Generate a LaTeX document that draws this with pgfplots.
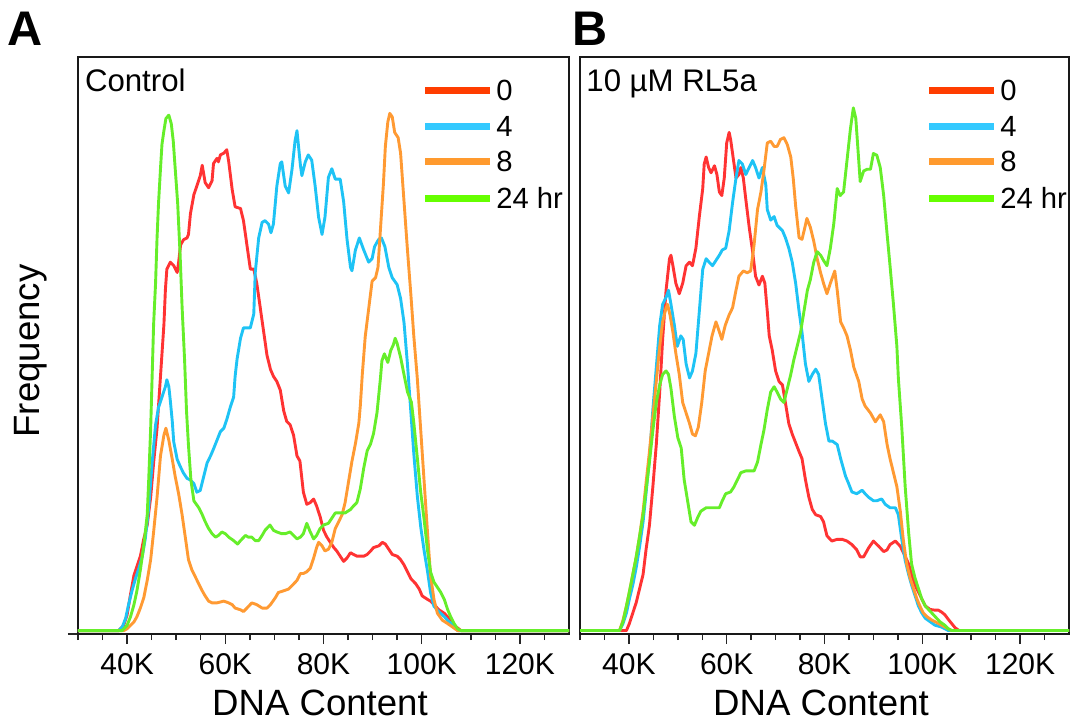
\documentclass[border=0pt]{standalone}
\usepackage{fontspec}
\setmainfont{Liberation Sans}
\usepackage{pgfplots}
\pgfplotsset{compat=1.18}

\definecolor{cred}{HTML}{FF3333}
\definecolor{cblue}{HTML}{1EC3F5}
\definecolor{corange}{HTML}{FF9A33}
\definecolor{cgreen}{HTML}{66EE2A}
\definecolor{lred}{HTML}{FF3D00}
\definecolor{lblue}{HTML}{33C9FF}
\definecolor{lorange}{HTML}{FF9A2E}
\definecolor{lgreen}{HTML}{66FF00}

\newcommand{\ticklab}{\fontsize{15}{18}\selectfont}
\newcommand{\axlab}{\fontsize{18.3}{22}\selectfont}
\newcommand{\legfont}{\fontsize{14.6}{18}\selectfont}
\newcommand{\titfont}{\fontsize{15.6}{19}\selectfont}
\newcommand{\panfont}{\fontsize{24.3}{28}\selectfont\bfseries}

\pgfplotsset{
  flowpanel/.style={
    scale only axis, height=288.5pt,
    xmin=30, xmax=130, ymin=0,
    xtick={40,60,80,100,120}, xticklabels={40K,60K,80K,100K,120K},
    minor xtick={30,35,45,50,55,65,70,75,85,90,95,105,110,115,125},
    xtick pos=left, ytick pos=left,
    tick align=outside,
    major tick length=5pt, minor tick length=3pt,
    tick style={black!85, line width=0.75pt},
    axis line style={black!90, line width=1.3pt},
    xticklabel style={font=\ticklab, anchor=base, yshift=-15pt},
    xlabel={DNA Content},
    xlabel style={font=\axlab, at={(axis description cs:0.4929,-0.1404)}, anchor=base},
    every axis plot/.append style={line width=1.45pt, line join=round},
  }
}

\begin{document}
\begin{tikzpicture}
\useasboundingbox (0,0) rectangle (536pt,-362pt);

% ---------------- panel A: control ----------------
\begin{axis}[flowpanel, width=245.5pt, ymax=1668,
  at={(39pt,-317pt)}, anchor=south west,
  ytick={0}, yticklabels={},
  ylabel={Frequency},
  ylabel style={font=\axlab, at={(axis description cs:-0.0794,0.4905)}, anchor=base, rotate=0},
]
\addplot[cred] coordinates {
(30,10) (38.3,10) (39.3,25) (40.0,55) (40.7,115) (41.4,170) (42.0,195) (42.7,225) (43.4,275) (44.1,315)
(44.8,395) (45.4,495) (46.1,595) (46.8,745) (47.5,895) (47.8,995) (48.1,1055) (48.8,1075) (49.5,1065)
(50.2,1045) (50.5,1075) (50.9,1125) (51.5,1140) (52.2,1145) (52.5,1155) (52.9,1215) (53.6,1270)
(54.2,1295) (54.9,1325) (55.3,1355) (55.9,1305) (56.6,1290) (57.3,1310) (57.6,1360) (58.3,1375)
(58.6,1365) (59.0,1385) (59.7,1390) (60.3,1400) (60.7,1365) (61.4,1285) (62.0,1235) (63.1,1230)
(63.7,1195) (64.4,1125) (65.1,1055) (65.8,1055) (66.4,1015) (67.1,945) (67.8,875) (68.5,805)
(69.2,765) (69.8,745) (70.5,730) (71.2,705) (71.9,645) (72.5,615) (73.2,605) (73.9,575) (74.6,515)
(75.2,500) (75.9,410) (76.6,375) (77.3,380) (78.0,390) (78.6,370) (79.3,340) (80.0,300) (80.7,280)
(81.4,265) (82.1,250) (82.7,240) (83.4,225) (84.1,210) (84.8,220) (85.5,235) (86.1,230) (86.8,225)
(88.2,225) (88.9,230) (89.6,240) (90.2,250) (91.3,255) (92.0,265) (92.6,260) (93.3,245) (94.0,230)
(95.0,225) (95.7,215) (96.4,200) (97.1,180) (97.8,160) (98.8,145) (99.5,130) (100.1,110) (101.2,100)
(101.8,95) (102.5,85) (103.5,70) (104.6,60) (105.6,45) (106.6,25) (108.0,10) (130,10)
};
\addplot[cblue] coordinates {
(30,10) (38.3,10) (39.0,20) (39.7,45) (40.3,85) (41.0,125) (41.7,160) (42.4,190) (43.1,225) (43.7,275)
(44.4,365) (45.1,495) (45.8,605) (46.4,655) (47.1,685) (47.8,715) (48.1,735) (48.5,715) (48.8,675)
(49.2,615) (49.5,555) (50.2,505) (50.8,485) (51.5,465) (52.2,450) (52.9,445) (53.6,435) (54.2,410)
(54.9,415) (55.6,455) (56.3,495) (57.0,515) (57.6,535) (58.3,560) (59.0,585) (59.7,595) (60.3,620)
(61.0,655) (61.7,685) (62.0,745) (62.4,795) (63.1,855) (63.7,885) (65.1,885) (65.8,925) (66.1,1045)
(66.8,1145) (67.5,1190) (68.1,1195) (68.8,1185) (69.3,1160) (69.8,1185) (70.5,1295) (71.2,1360)
(71.5,1365) (72.2,1295) (72.9,1275) (73.6,1345) (74.2,1425) (74.6,1455) (75.3,1355) (75.6,1325)
(76.3,1365) (76.9,1385) (77.6,1370) (78.3,1295) (79.0,1205) (79.7,1155) (80.3,1205) (81.0,1320)
(81.7,1345) (82.4,1315) (83.4,1315) (84.1,1250) (84.8,1140) (85.5,1060) (85.8,1050) (86.5,1110)
(87.3,1145) (88.2,1110) (89.2,1075) (89.9,1085) (90.4,1120) (91.2,1140) (91.8,1145) (92.5,1120)
(93.3,1060) (94.0,1030) (95.0,1010) (95.7,970) (96.4,900) (97.1,780) (97.8,640) (98.4,520) (99.1,400)
(99.8,310) (100.5,240) (101.2,180) (101.8,120) (102.5,80) (103.5,65) (104.6,50) (105.6,35) (106.6,25)
(107.3,10) (130,10)
};
\addplot[corange] coordinates {
(30,10) (39.3,10) (40.0,15) (40.7,25) (41.4,35) (42.0,50) (42.7,75) (43.4,105) (44.1,155) (44.8,215)
(45.4,295) (46.1,395) (46.8,515) (47.5,575) (47.9,595) (48.5,560) (49.2,505) (49.8,455) (50.5,405)
(51.2,345) (51.9,275) (52.5,215) (53.2,185) (53.9,165) (54.6,145) (55.3,125) (55.9,110) (56.6,95)
(57.3,90) (58.3,90) (59.7,95) (60.7,90) (61.4,85) (62.0,75) (63.1,70) (63.7,65) (64.4,75) (65.4,90)
(66.4,85) (67.5,75) (68.5,75) (69.2,85) (70.2,105) (70.8,120) (71.9,125) (72.9,130) (73.6,140)
(74.6,155) (75.3,175) (75.9,175) (76.6,180) (77.3,190) (78.0,220) (78.6,250) (79.0,265) (79.7,255)
(80.3,240) (81.0,245) (81.7,265) (82.4,305) (83.1,325) (83.8,345) (84.4,380) (85.1,440) (85.8,500)
(86.5,550) (87.2,610) (87.5,660) (87.9,750) (88.5,860) (89.2,940) (89.9,1020) (90.6,1030) (91.1,1060)
(91.6,1170) (92.2,1300) (92.6,1410) (93.1,1480) (93.5,1505) (94.0,1495) (94.5,1450) (95.2,1435)
(95.7,1390) (96.4,1250) (97.1,1110) (97.8,980) (98.4,860) (99.1,740) (99.8,590) (100.5,440)
(101.2,290) (101.8,170) (102.5,100) (103.2,60) (104.2,40) (105.3,30) (106.3,20) (107.3,10) (130,10)
};
\addplot[cgreen] coordinates {
(30,10) (39.0,10) (40.0,25) (40.7,50) (41.4,85) (42.0,125) (42.7,185) (43.4,255) (44.1,345) (44.4,445)
(44.8,595) (45.1,745) (45.4,895) (45.8,1015) (46.1,1145) (46.4,1245) (46.8,1345) (47.1,1415)
(47.5,1455) (47.9,1490) (48.5,1500) (49.0,1475) (49.4,1425) (49.8,1345) (50.3,1245) (50.8,1095)
(51.2,945) (51.7,795) (52.1,645) (52.5,545) (53.0,445) (53.6,385) (54.1,375) (54.6,365) (55.3,345)
(55.9,325) (56.6,305) (57.3,290) (58.0,280) (58.6,285) (59.3,295) (60.0,290) (60.7,280) (61.7,270)
(62.5,260) (63.1,270) (64.1,285) (64.7,280) (65.4,280) (66.1,270) (66.8,270) (67.5,285) (68.1,300)
(69.1,315) (69.8,300) (70.5,295) (71.5,290) (72.2,290) (73.2,295) (73.9,285) (74.6,275) (75.3,280)
(75.9,290) (76.6,320) (77.3,295) (78.0,275) (78.6,285) (79.3,305) (80.0,315) (81.0,320) (81.7,335)
(82.4,350) (83.4,350) (84.4,350) (85.5,360) (86.1,370) (86.8,380) (87.5,420) (88.2,480) (88.9,530)
(89.6,550) (90.2,580) (90.9,640) (91.6,740) (91.9,790) (92.4,810) (93.1,785) (93.7,820) (94.2,835)
(94.6,855) (95.0,840) (95.7,800) (96.4,750) (97.1,700) (97.9,670) (98.4,610) (99.1,510) (99.8,410)
(100.5,330) (101.2,240) (101.8,180) (102.5,150) (103.2,135) (103.9,120) (104.6,100) (105.3,70)
(105.9,50) (106.6,30) (107.3,15) (108.0,10) (130,10)
};
\end{axis}

% ---------------- panel B: 10 uM RL5a ----------------
\begin{axis}[flowpanel, width=244.5pt, ymax=1645,
  at={(290pt,-317pt)}, anchor=south west,
  ytick=\empty,
]
\addplot[cred] coordinates {
(30,10) (39.5,10) (40.1,30) (40.8,60) (41.5,90) (42.2,130) (42.9,170) (43.5,240) (44.2,310) (44.9,420)
(45.6,540) (46.3,690) (46.9,840) (47.6,980) (48.3,1070) (48.6,1080) (49.0,1050) (49.6,1000) (50.3,970)
(51.0,1000) (51.7,1050) (52.4,1060) (53.0,1050) (53.7,1100) (54.4,1190) (55.1,1270) (55.4,1340)
(55.8,1360) (56.3,1330) (56.8,1315) (57.5,1335) (58.0,1310) (58.5,1260) (59.0,1250) (59.5,1300)
(60.0,1400) (60.5,1430) (60.8,1410) (61.3,1360) (61.9,1300) (62.5,1310) (62.9,1330) (63.4,1300)
(63.9,1240) (64.6,1160) (65.3,1090) (65.9,1020) (66.6,995) (67.3,1020) (67.8,1000) (68.3,920)
(68.7,850) (69.3,810) (70.0,750) (70.7,720) (71.4,710) (72.0,660) (72.7,600) (73.4,570) (74.1,545)
(74.8,520) (75.4,500) (76.1,440) (76.8,390) (77.5,355) (78.2,340) (79.2,335) (79.8,320) (80.5,280)
(81.5,265) (82.6,270) (83.6,270) (84.6,265) (85.6,255) (86.6,240) (87.3,220) (88.0,220) (89.0,245)
(90.0,265) (91.1,250) (92.1,235) (92.8,240) (93.4,255) (94.5,265) (95.5,250) (96.2,230) (97.2,200)
(97.8,170) (98.5,140) (99.2,120) (99.9,100) (100.6,80) (101.6,70) (102.6,68) (103.3,68) (104.0,62)
(104.6,55) (105.3,42) (106.0,30) (106.7,18) (107.5,10) (130,10)
};
\addplot[cblue] coordinates {
(30,10) (38.1,10) (38.8,30) (39.5,60) (40.1,100) (40.8,140) (41.5,190) (42.2,250) (42.9,320) (43.5,400)
(44.2,500) (44.9,640) (45.6,760) (46.3,880) (46.9,940) (47.6,960) (48.1,980) (48.6,940) (49.3,880)
(49.9,820) (50.6,850) (51.1,840) (51.7,770) (52.4,730) (53.0,750) (53.7,800) (54.4,920) (55.1,1040)
(55.8,1070) (56.4,1060) (57.1,1050) (57.8,1065) (58.5,1080) (59.1,1095) (59.8,1100) (60.5,1150)
(61.2,1230) (61.9,1300) (62.5,1350) (63.2,1340) (63.9,1310) (64.6,1330) (65.3,1350) (65.9,1330)
(66.6,1300) (67.3,1330) (68.0,1280) (68.3,1210) (69.0,1180) (69.7,1190) (70.3,1165) (71.4,1150)
(72.0,1130) (72.7,1100) (73.4,1060) (74.1,1000) (74.8,920) (75.4,860) (76.1,770) (76.8,720)
(77.5,740) (78.2,755) (78.8,740) (79.5,670) (80.2,600) (80.9,550) (81.6,550) (82.6,540) (83.3,500)
(84.3,450) (84.9,430) (85.6,405) (86.6,400) (87.7,410) (88.3,400) (89.0,390) (90.0,380) (90.7,380)
(91.7,385) (92.4,370) (93.4,360) (94.5,360) (95.1,340) (95.8,270) (96.5,210) (97.2,170) (97.8,140)
(98.5,110) (99.2,80) (99.9,60) (100.6,45) (101.6,35) (102.6,25) (103.9,20) (105.3,10) (130,10)
};
\addplot[corange] coordinates {
(30,10) (38.1,10) (38.8,40) (39.5,80) (40.1,120) (40.8,170) (41.5,220) (42.2,280) (42.9,350) (43.5,430)
(44.2,520) (44.9,620) (45.6,720) (46.3,820) (46.9,890) (47.6,930) (47.9,940) (48.4,910) (49.0,860)
(49.6,800) (50.3,740) (51.0,660) (51.7,630) (52.4,600) (53.0,570) (53.6,565) (54.2,590) (54.9,660)
(55.6,750) (56.3,800) (57.0,850) (57.8,890) (58.3,870) (59.0,840) (59.7,880) (60.5,910) (61.2,930)
(61.9,980) (62.5,1020) (63.4,1035) (64.2,1030) (64.9,1035) (65.6,1110) (66.3,1210) (67.0,1260)
(67.6,1320) (68.3,1400) (69.0,1405) (69.7,1390) (70.3,1390) (71.0,1410) (71.7,1415) (72.4,1395)
(73.1,1360) (73.6,1300) (74.1,1220) (74.8,1130) (75.4,1125) (76.0,1160) (76.4,1185) (77.1,1160)
(77.8,1120) (78.5,1070) (79.2,1030) (79.8,1000) (80.5,970) (81.2,1000) (82.1,1035) (82.6,980)
(83.3,890) (84.0,870) (84.6,850) (85.3,810) (86.0,760) (87.0,720) (87.7,670) (88.3,650) (89.4,630)
(90.4,605) (91.4,625) (92.1,605) (92.8,540) (93.4,500) (94.1,460) (94.8,420) (95.5,350) (96.1,270)
(96.8,200) (97.5,160) (98.2,130) (98.9,100) (99.5,80) (100.2,60) (100.9,50) (101.9,40) (103.3,30)
(104.6,20) (105.3,15) (106.0,10) (130,10)
};
\addplot[cgreen] coordinates {
(30,10) (38.1,10) (38.8,35) (39.5,80) (40.1,120) (40.8,170) (41.5,220) (42.2,280) (42.9,340) (43.5,410)
(44.2,490) (44.9,580) (45.6,660) (46.3,710) (46.9,740) (47.6,750) (48.1,740) (48.6,700) (49.3,620)
(50.0,560) (50.7,530) (51.3,440) (52.0,380) (52.7,320) (53.4,310) (54.0,330) (54.7,350) (55.8,360)
(56.8,360) (58.5,360) (59.1,380) (59.8,400) (60.8,405) (61.5,420) (62.2,440) (62.9,460) (63.9,465)
(64.9,465) (65.6,465) (66.3,490) (67.0,540) (67.6,580) (68.3,640) (69.0,690) (69.7,705) (70.3,690)
(71.0,670) (71.7,660) (72.4,700) (73.1,740) (73.7,780) (74.4,820) (75.1,860) (75.8,920) (76.5,980)
(77.1,1010) (77.8,1060) (78.5,1090) (79.2,1080) (79.8,1065) (80.5,1050) (81.2,1100) (81.9,1170)
(82.6,1270) (83.2,1250) (83.9,1260) (84.6,1350) (85.3,1440) (85.9,1500) (86.4,1470) (86.8,1390)
(87.3,1290) (88.0,1320) (88.7,1325) (89.4,1325) (90.0,1370) (90.7,1365) (91.4,1330) (92.1,1250)
(92.8,1140) (93.4,1050) (94.1,940) (94.8,820) (95.1,730) (95.8,590) (96.5,420) (97.2,290) (97.8,200)
(98.5,160) (99.2,130) (99.9,100) (100.6,80) (101.6,65) (102.6,50) (103.6,35) (104.6,25) (105.3,15)
(106.0,10) (130,10)
};
\end{axis}

% panel letters and titles
\node[anchor=base west, inner sep=0pt, font=\panfont] at (3.5pt,-22.5pt) {A};
\node[anchor=base west, inner sep=0pt, font=\panfont] at (286pt,-22.5pt) {B};
\node[anchor=base west, inner sep=0pt, font=\titfont] at (42.3pt,-45.8pt) {Control};
\node[anchor=base west, inner sep=0pt, font=\titfont] at (293pt,-45.8pt) {10 µM RL5a};

% legends
\draw[lred, line width=3.5pt] (212.5pt,-45pt) -- (245pt,-45pt);
\draw[lblue, line width=3.5pt] (212.5pt,-63pt) -- (245pt,-63pt);
\draw[lorange, line width=3.5pt] (212.5pt,-80.5pt) -- (245pt,-80.5pt);
\draw[lgreen, line width=3.5pt] (212.5pt,-99pt) -- (245pt,-99pt);
\node[anchor=base west, inner sep=0pt, font=\legfont] at (248pt,-50.3pt) {0};
\node[anchor=base west, inner sep=0pt, font=\legfont] at (248pt,-68.3pt) {4};
\node[anchor=base west, inner sep=0pt, font=\legfont] at (248pt,-85.8pt) {8};
\node[anchor=base west, inner sep=0pt, font=\legfont] at (248pt,-104.3pt) {24 hr};

\draw[lred, line width=3.5pt] (464.5pt,-45pt) -- (497pt,-45pt);
\draw[lblue, line width=3.5pt] (464.5pt,-63pt) -- (497pt,-63pt);
\draw[lorange, line width=3.5pt] (464.5pt,-80.5pt) -- (497pt,-80.5pt);
\draw[lgreen, line width=3.5pt] (464.5pt,-99pt) -- (497pt,-99pt);
\node[anchor=base west, inner sep=0pt, font=\legfont] at (500pt,-50.3pt) {0};
\node[anchor=base west, inner sep=0pt, font=\legfont] at (500pt,-68.3pt) {4};
\node[anchor=base west, inner sep=0pt, font=\legfont] at (500pt,-85.8pt) {8};
\node[anchor=base west, inner sep=0pt, font=\legfont] at (500pt,-104.3pt) {24 hr};
\end{tikzpicture}
\end{document}
